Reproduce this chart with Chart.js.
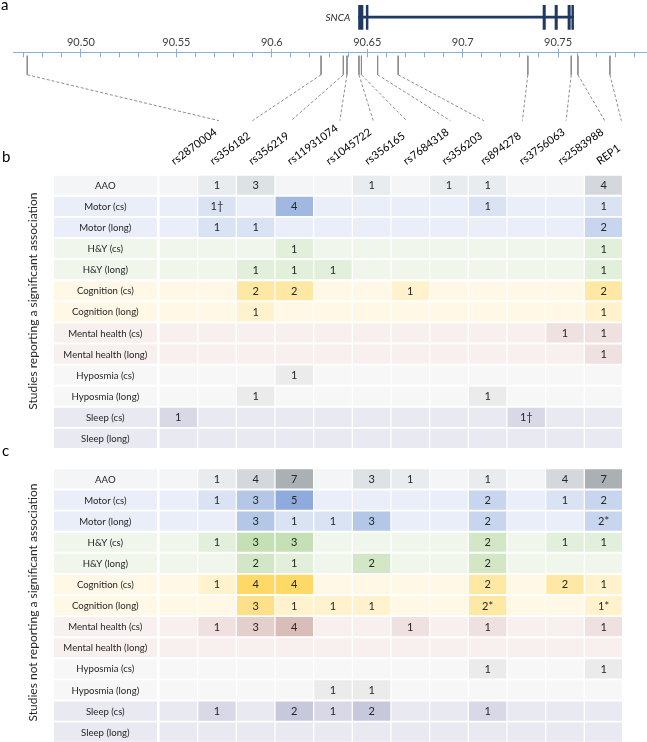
<!DOCTYPE html>
<html>
<head>
<meta charset="utf-8">
<script src="https://cdn.jsdelivr.net/npm/chart.js@4.4.1/dist/chart.umd.min.js"></script>
<style>
  html, body { margin: 0; padding: 0; background: #fff; overflow: hidden; }
  #wrap { position: relative; width: 647px; height: 742px; overflow: hidden; }
  canvas { position: absolute; left: 0; top: 0; }
  .panel { position: absolute; font: 15px Lato, sans-serif; color: #000; line-height: 1; }
</style>
</head>
<body>
<div id="wrap">
  <canvas id="heatB" width="647" height="460"></canvas>
  <canvas id="heatC" width="647" height="760"></canvas>
  <canvas id="ruler" width="647" height="60"></canvas>
  <canvas id="gene" width="647" height="130"></canvas>
  <div class="panel" style="left:1px;top:-3px">a</div>
  <div class="panel" style="left:2px;top:149px">b</div>
  <div class="panel" style="left:2px;top:443px">c</div>
</div>
<script>
// ---- data ----
const snps = ['rs2870004', 'rs356182', 'rs356219', 'rs11931074', 'rs1045722', 'rs356165',
              'rs7684318', 'rs356203', 'rs894278', 'rs3756063', 'rs2583988', 'REP1'];
// position on chr4 (Mb)
const snpPos = [90.4719, 90.6262, 90.6379, 90.6398, 90.6461, 90.6474,
                90.6559, 90.6667, 90.7348, 90.7576, 90.7611, 90.7779];

const exonStart = [90.6457, 90.6499, 90.7426, 90.7489, 90.7557, 90.7578];
const exonEnd   = [90.6484, 90.6509, 90.7442, 90.7505, 90.7573, 90.7589];

const rulerTicks  = [90.50, 90.55, 90.60, 90.65, 90.70, 90.75];
const rulerLabels = ['90.50', '90.55', '90.6', '90.65', '90.7', '90.75'];

const outcomes = ['AAO', 'Motor (cs)', 'Motor (long)', 'H&Y (cs)', 'H&Y (long)',
                  'Cognition (cs)', 'Cognition (long)', 'Mental health (cs)', 'Mental health (long)',
                  'Hyposmia (cs)', 'Hyposmia (long)', 'Sleep (cs)', 'Sleep (long)'];
const outcomeGroup = ['aao', 'motor', 'motor', 'hy', 'hy', 'cog', 'cog',
                      'mental', 'mental', 'smell', 'smell', 'sleep', 'sleep'];

// b: studies reporting a significant association
const sigCounts = [
  [0, 1, 3, 0, 0, 1, 0, 1, 1, 0, 0, 4],
  [0, 1, 0, 4, 0, 0, 0, 0, 1, 0, 0, 1],
  [0, 1, 1, 0, 0, 0, 0, 0, 0, 0, 0, 2],
  [0, 0, 0, 1, 0, 0, 0, 0, 0, 0, 0, 1],
  [0, 0, 1, 1, 1, 0, 0, 0, 0, 0, 0, 1],
  [0, 0, 2, 2, 0, 0, 1, 0, 0, 0, 0, 2],
  [0, 0, 1, 0, 0, 0, 0, 0, 0, 0, 0, 1],
  [0, 0, 0, 0, 0, 0, 0, 0, 0, 0, 1, 1],
  [0, 0, 0, 0, 0, 0, 0, 0, 0, 0, 0, 1],
  [0, 0, 0, 1, 0, 0, 0, 0, 0, 0, 0, 0],
  [0, 0, 1, 0, 0, 0, 0, 0, 1, 0, 0, 0],
  [1, 0, 0, 0, 0, 0, 0, 0, 0, 1, 0, 0],
  [0, 0, 0, 0, 0, 0, 0, 0, 0, 0, 0, 0]
];
const sigMarks = [[1, 1, '\u2020'], [11, 9, '\u2020']];

// c: studies not reporting a significant association
const nonsigCounts = [
  [0, 1, 4, 7, 0, 3, 1, 0, 1, 0, 4, 7],
  [0, 1, 3, 5, 0, 0, 0, 0, 2, 0, 1, 2],
  [0, 0, 3, 1, 1, 3, 0, 0, 2, 0, 0, 2],
  [0, 1, 3, 3, 0, 0, 0, 0, 2, 0, 1, 1],
  [0, 0, 2, 1, 0, 2, 0, 0, 2, 0, 0, 0],
  [0, 1, 4, 4, 0, 0, 0, 0, 2, 0, 2, 1],
  [0, 0, 3, 1, 1, 1, 0, 0, 2, 0, 0, 1],
  [0, 1, 3, 4, 0, 0, 1, 0, 1, 0, 0, 1],
  [0, 0, 0, 0, 0, 0, 0, 0, 0, 0, 0, 0],
  [0, 0, 0, 0, 0, 0, 0, 0, 1, 0, 0, 1],
  [0, 0, 0, 0, 1, 1, 0, 0, 0, 0, 0, 0],
  [0, 1, 0, 2, 1, 2, 0, 0, 1, 0, 0, 0],
  [0, 0, 0, 0, 0, 0, 0, 0, 0, 0, 0, 0]
];
const nonsigMarks = [[2, 11, '*'], [6, 8, '*'], [6, 11, '*']];

// colour by count, index 0 = row background
const palettes = {
  aao:    ['#f4f5f6', '#e9ecef', '#e1e4e8', '#dde2e4', '#d4d7dc', '#c6cacf', '#b8bdc1', '#aab0b4'],
  motor:  ['#e9eef8', '#dae3f3', '#c7d5ee', '#b4c7e7', '#a1b8e1', '#8faadc'],
  hy:     ['#f0f6ec', '#e2efda', '#d3e7c7', '#c5e0b4'],
  cog:    ['#fff8e6', '#fff2cc', '#ffe8a3', '#ffe08a', '#ffd966'],
  mental: ['#f8f0ef', '#efe1df', '#e9d8d5', '#e3cfcb', '#d8bdb8'],
  smell:  ['#f7f7f7', '#ebebeb'],
  sleep:  ['#e9e9f1', '#d8d8e7', '#c8c8dc']
};

const FONT = 'Lato';
const AXIS_BLUE = '#8faadc';
const HEAD_ROT = 36;

Chart.defaults.font.family = FONT;
Chart.defaults.color = '#262626';

const cellText = {
  id: 'cellText',
  afterDatasetsDraw(chart) {
    const ctx = chart.ctx;
    ctx.save();
    ctx.textAlign = 'center';
    ctx.textBaseline = 'middle';
    ctx.fillStyle = '#262626';
    chart.data.datasets.forEach((ds, d) => {
      ctx.font = ds.textFont;
      chart.getDatasetMeta(d).data.forEach((el, i) => {
        const t = ds.cellText[i];
        if (!t) return;
        const p = el.getCenterPoint();
        ctx.fillText(t, p.x, p.y + 0.5);
      });
    });
    ctx.restore();
  }
};

function buildHeat(id, counts, marks, cfg) {
  const notes = {};
  marks.forEach(([r, c, m]) => { notes[r + '_' + c] = m; });

  const cell = { barThickness: 18.5, grouped: false, borderWidth: 0 };
  const datasets = [Object.assign({
    data: outcomes.map((o, r) => ({ x: [-2.715, -0.06], y: r })),
    backgroundColor: outcomeGroup.map(g => palettes[g][0]),
    cellText: outcomes.slice(),
    textFont: '9.6px ' + FONT
  }, cell)];
  snps.forEach((s, c) => {
    datasets.push(Object.assign({
      data: outcomes.map((o, r) => ({ x: [c + 0.025, c + 0.975], y: r })),
      backgroundColor: outcomes.map((o, r) => palettes[outcomeGroup[r]][counts[r][c]]),
      cellText: outcomes.map((o, r) => counts[r][c] ? counts[r][c] + (notes[r + '_' + c] || '') : ''),
      textFont: '11px ' + FONT
    }, cell));
  });

  return new Chart(document.getElementById(id), {
    type: 'bar',
    data: { datasets },
    options: {
      indexAxis: 'y',
      responsive: false,
      animation: false,
      events: [],
      layout: { padding: { left: 25.5, right: 25, top: cfg.padTop, bottom: cfg.padBottom } },
      plugins: { legend: { display: false }, tooltip: { enabled: false } },
      scales: {
        x: {
          type: 'linear', min: -2.715, max: 11.975, position: 'top', offset: false,
          display: cfg.header,
          grid: { display: false, drawTicks: false, offset: false },
          border: { display: false },
          afterBuildTicks: s => { s.ticks = snps.map((n, i) => ({ value: i + 0.55 })); },
          afterFit: s => { s.height = cfg.headHeight; },
          ticks: {
            autoSkip: false, minRotation: HEAD_ROT, maxRotation: HEAD_ROT, padding: 7,
            color: '#000', font: { size: 11 },
            callback: (v, i) => snps[i]
          }
        },
        y: {
          type: 'linear', min: -0.5, max: 12.5, reverse: true, offset: false,
          ticks: { display: false },
          grid: { display: false, drawTicks: false, offset: false },
          border: { display: false },
          afterFit: s => { s.width = 28.5; },
          // leading blanks nudge the centred title upwards, as in the source figure
          title: { display: true, text: ' '.repeat(cfg.titleLift) + cfg.title, color: '#262626', padding: 0, font: { size: 12 } }
        }
      }
    },
    plugins: [cellText]
  });
}

function draw() {
  const heatB = buildHeat('heatB', sigCounts, sigMarks, {
    header: true, headHeight: 174.7, padTop: 0, padBottom: 460 - 449,
    title: 'Studies reporting a significant association', titleLift: 7
  });
  buildHeat('heatC', nonsigCounts, nonsigMarks, {
    header: false, headHeight: 0, padTop: 468.4, padBottom: 760 - 742.7,
    title: 'Studies not reporting a significant association', titleLift: 2
  });

  // genomic ruler
  new Chart(document.getElementById('ruler'), {
    type: 'scatter',
    data: { datasets: [] },
    options: {
      responsive: false, animation: false, events: [],
      layout: { padding: { left: 13, right: 0, top: 0, bottom: 2.7 } },
      plugins: { legend: { display: false }, tooltip: { enabled: false } },
      scales: {
        x: {
          type: 'linear', position: 'top', min: 90.4644, max: 90.7966,
          afterFit: s => { s.height = 52.3; },
          ticks: {
            stepSize: 0.01, autoSkip: false, includeBounds: false, maxRotation: 0, minRotation: 0,
            padding: 0, color: '#404040', font: { size: 11 },
            callback: v => {
              const i = rulerTicks.findIndex(t => Math.abs(t - v) < 1e-6);
              return i < 0 ? '' : rulerLabels[i];
            }
          },
          grid: {
            color: AXIS_BLUE, drawOnChartArea: true, drawTicks: true, tickLength: 3.5,
            tickColor: c => (c.tick && c.tick.label) ? AXIS_BLUE : 'rgba(0,0,0,0)'
          },
          border: { display: true, color: AXIS_BLUE }
        },
        y: { display: false, min: 0, max: 1 }
      }
    }
  });

  // gene model + SNP links (y in track units, top-down)
  const GENE_Y = 16, EXON_TOP = 3.5, EXON_BOTTOM = 29;
  const DROP_TOP = 55.5, DROP_BOTTOM = 75, LINK_END = 122;
  const NAVY = '#203864';

  const geneLabel = {
    id: 'geneLabel',
    afterDatasetsDraw(chart) {
      const ctx = chart.ctx, x = chart.scales.x, y = chart.scales.y;
      ctx.save();
      ctx.font = 'italic 10px ' + FONT;
      ctx.fillStyle = '#262626';
      ctx.textAlign = 'right';
      ctx.textBaseline = 'middle';
      ctx.fillText('SNCA', x.getPixelForValue(exonStart[0]) - 8, y.getPixelForValue(GENE_Y) + 1);
      ctx.restore();
    }
  };

  const geneSets = [{
    data: [{ x: exonStart[0], y: GENE_Y }, { x: exonEnd[exonEnd.length - 1], y: GENE_Y }],
    showLine: true, borderColor: NAVY, borderWidth: 2.6, pointRadius: 0
  }];
  exonStart.forEach((s, i) => {
    const mid = (s + exonEnd[i]) / 2;
    geneSets.push({
      data: [{ x: mid, y: EXON_TOP }, { x: mid, y: EXON_BOTTOM }],
      showLine: true, borderColor: NAVY, borderWidth: 3, borderCapStyle: 'butt', pointRadius: 0,
      exon: i
    });
  });
  snpPos.forEach((p, i) => {
    geneSets.push({
      data: [{ x: p, y: DROP_TOP }, { x: p, y: DROP_BOTTOM }, { x: p, y: LINK_END }],
      showLine: true, borderColor: '#8c8c8c', borderWidth: 1, pointRadius: 0, tension: 0,
      segment: { borderDash: c => c.p0DataIndex === 1 ? [3, 2] : undefined },
      link: i
    });
  });

  const gene = new Chart(document.getElementById('gene'), {
    type: 'scatter',
    data: { datasets: geneSets },
    options: {
      responsive: false, animation: false, events: [],
      layout: { padding: { left: 13, right: 0, top: 0, bottom: 0 } },
      plugins: { legend: { display: false }, tooltip: { enabled: false } },
      scales: {
        x: { type: 'linear', min: 90.4644, max: 90.7966, display: false },
        y: { type: 'linear', min: 0, max: 130, reverse: true, display: false }
      }
    },
    plugins: [geneLabel]
  });

  // exon widths and link end points from the scales
  const gx = gene.scales.x, hx = heatB.scales.x;
  const mctx = heatB.ctx;
  mctx.save();
  mctx.font = '11px ' + FONT;
  const cosR = Math.cos(HEAD_ROT * Math.PI / 180);
  gene.data.datasets.forEach(ds => {
    if (ds.exon !== undefined) {
      ds.borderWidth = Math.max(2.5, gx.getPixelForValue(exonEnd[ds.exon]) - gx.getPixelForValue(exonStart[ds.exon]));
    }
    if (ds.link !== undefined) {
      const sx = hx.getPixelForValue(ds.link + 0.55) - 4;
      const endPx = sx + mctx.measureText(snps[ds.link]).width * cosR;
      ds.data[2].x = gx.getValueForPixel(endPx);
    }
  });
  mctx.restore();
  gene.update('none');
}

if (document.fonts && document.fonts.load) {
  Promise.all([
    document.fonts.load('11px Lato'),
    document.fonts.load('italic 10px Lato')
  ]).then(draw, draw);
} else {
  draw();
}
</script>
</body>
</html>
